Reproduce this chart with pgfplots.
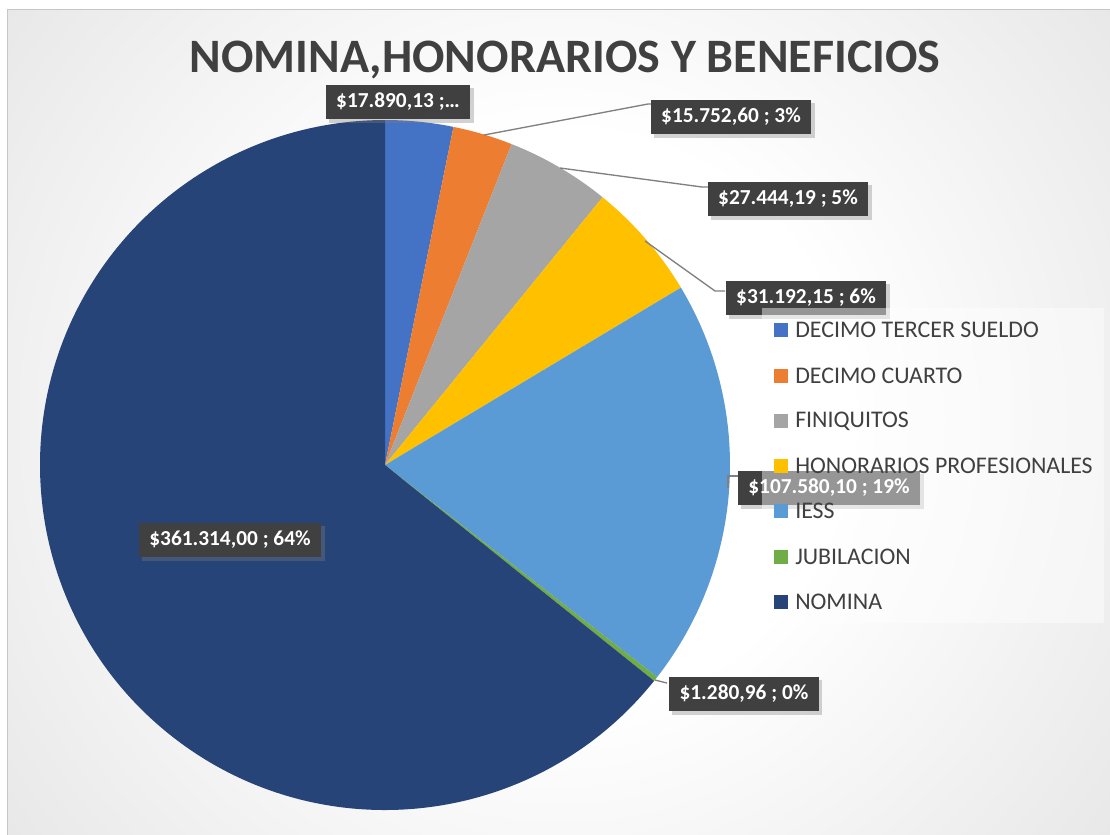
\documentclass[border=0pt]{standalone}
\usepackage{pgfplots}
\pgfplotsset{compat=1.18}
\usepackage{pgfplotstable}
\usepackage{fontspec}
\setmainfont{Carlito}
\usetikzlibrary{shadows}
\definecolor{c0}{HTML}{4472C4}
\definecolor{c1}{HTML}{ED7D31}
\definecolor{c2}{HTML}{A5A5A5}
\definecolor{c3}{HTML}{FFC000}
\definecolor{c4}{HTML}{5B9BD5}
\definecolor{c5}{HTML}{70AD47}
\definecolor{c6}{HTML}{264478}
\definecolor{txtgray}{HTML}{404040}
\definecolor{lblbg}{HTML}{404040}
\definecolor{leader}{HTML}{808080}
\definecolor{bgedge}{HTML}{BDBDBD}
\pgfdeclareradialshading{bgshade}{\pgfpointorigin}{color(0bp)=(white); color(10bp)=(white); color(50bp)=(bgedge)}

% slice values, clockwise from 12 o'clock
\pgfplotstableread{
slice value
0 17890.13
1 15752.60
2 27444.19
3 31192.15
4 107580.10
5 1280.96
6 361314.00
}\piedata

% start and end angle of each slice
\gdef\tot{0}
\foreach \i in {0,...,6}{%
  \pgfplotstablegetelem{\i}{value}\of\piedata
  \xdef\tot{\fpeval{\tot+\pgfplotsretval}}}
\gdef\cum{0}
\foreach \i in {0,...,6}{%
  \pgfplotstablegetelem{\i}{value}\of\piedata
  \expandafter\xdef\csname st\i\endcsname{\fpeval{90-360*\cum/\tot}}%
  \xdef\cum{\fpeval{\cum+\pgfplotsretval}}%
  \expandafter\xdef\csname en\i\endcsname{\fpeval{90-360*\cum/\tot}}}

\begin{document}
\begin{tikzpicture}[x=0.75pt,y=-0.75pt,
  lbl/.style={fill=lblbg, text=white, font=\bfseries\fontsize{16}{19}\selectfont,
    inner xsep=8pt, minimum height=26pt,
    drop shadow={shadow xshift=2.5pt, shadow yshift=-2.5pt, opacity=0.35}},
  lead/.style={leader, line width=1pt},
  leg/.style={anchor=west, text=txtgray, font=\fontsize{17.9}{21}\selectfont, inner sep=0pt}]
\fill[white] (0,0) rectangle (1110,835);
\begin{scope}
  \clip (7,9) rectangle (1110,835);
  \shade[shading=bgshade] (560,420) circle[radius=540pt];
\end{scope}
\draw[gray!45, line width=0.75pt] (7,835) -- (7,9) -- (1110,9);

\begin{axis}[at={(0,0)}, anchor=north west, scale only axis,
  width=832.5pt, height=626.25pt,
  xmin=0, xmax=1110, ymin=0, ymax=835, y dir=reverse,
  hide axis, clip=false]
\pgfplotsinvokeforeach{0,...,6}{
  \fill[c#1] (axis cs:385,465) -- ++(\csname st#1\endcsname:258.75pt)
    arc[start angle=\csname st#1\endcsname, end angle=\csname en#1\endcsname, radius=258.75pt] -- cycle;
}
\end{axis}

\node[text=txtgray, font=\bfseries\fontsize{36}{43}\selectfont] at (565,60) {NOMINA,HONORARIOS Y BENEFICIOS};

\draw[lead] (484,135) -- (648,104) -- (655,104);
\draw[lead] (560,168) -- (702,187) -- (712,187);
\draw[lead] (645,241) -- (715,291) -- (725,291);
\draw[lead] (728,488) -- (728,476) -- (740,476);
\draw[lead] (655,680) -- (667,683);

\node[lbl] at (398,102) {\$17.890,13 ;…};
\node[lbl] at (731,117) {\$15.752,60 ; 3\%};
\node[lbl] at (788,199) {\$27.444,19 ; 5\%};
\node[lbl] at (806,298) {\$31.192,15 ; 6\%};
\node[lbl] at (829,488) {\$107.580,10 ; 19\%};
\node[lbl] at (744,694) {\$1.280,96 ; 0\%};
\node[lbl] at (230,540) {\$361.314,00 ; 64\%};

\fill[white, fill opacity=0.45] (762,308) rectangle (1104,623);
\foreach \c/\y/\t in {c0/330/DECIMO TERCER SUELDO, c1/376/DECIMO CUARTO, c2/421/FINIQUITOS,
  c3/466/HONORARIOS PROFESIONALES, c4/511/IESS, c5/557/JUBILACION, c6/602/NOMINA}{
  \fill[\c] (774,\y-7) rectangle (788,\y+7);
  \node[leg] at (795,\y) {\t};
}
\pgfresetboundingbox
\path[use as bounding box] (0,0) rectangle (1110,835);
\end{tikzpicture}
\end{document}
